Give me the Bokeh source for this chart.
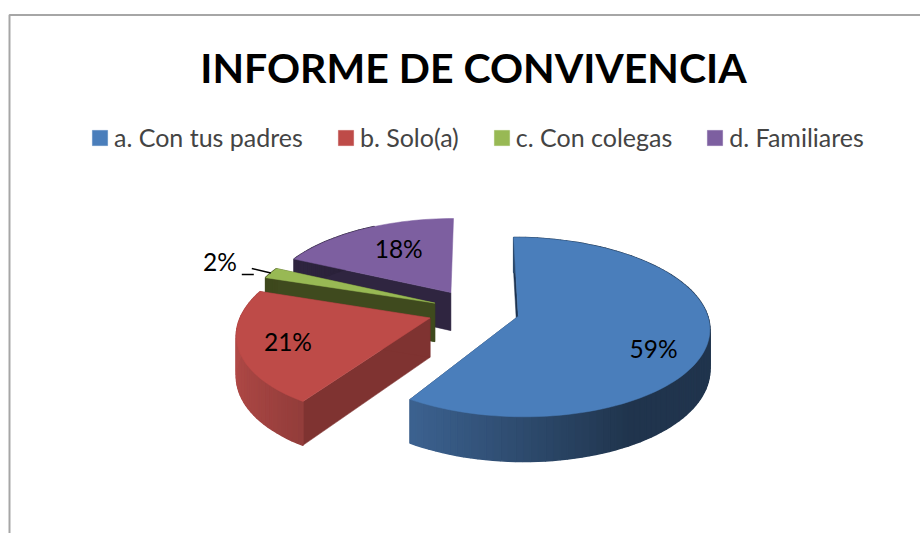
import math
from bokeh.plotting import figure
from bokeh.models import Legend, LegendItem, Range1d
from bokeh.core.properties import value
from bokeh.embed import file_html
from bokeh.resources import INLINE

title_text = "INFORME DE CONVIVENCIA"
categories = ["a. Con tus padres", "b. Solo(a)", "c. Con colegas", "d. Familiares"]
percent = [59, 21, 2, 18]
top_colors = ["#4a7ebb", "#be4b48", "#98b954", "#7d5fa0"]
wall_colors = ["#1d3350", "#7f3331", "#3f4a1e", "#2f2540"]
rim_base = [(79, 129, 189), (192, 80, 77), (70, 82, 33), (53, 42, 72)]
explode = [0.235, 0.25, 0.235, 0.25]
shear = [0, 9, 0, 0]

# pie projection
CX, CY, RX, RY, K, DEPTH = 475, 310, 188, 87, 0.12, 39
FONT = "Lato"

W, H = 920, 533
p = figure(width=W, height=H, x_range=Range1d(0, W), y_range=Range1d(H, 0),
           output_backend="svg", toolbar_location=None, min_border=0, outline_line_color=None)
p.axis.visible = False
p.grid.visible = False


def project(u, v, lift=0.0, sh=0.0):
    s = 1 / (1 + K * v)
    return CX + RX * u * s + sh * v * s, CY - RY * v * s + lift * s


def unit(deg):
    r = math.radians(deg)
    return math.sin(r), math.cos(r)


def shade(base, u):
    f = 0.41 if u >= 0.5 else 0.58 - 0.34 * u
    return "#%02x%02x%02x" % tuple(min(255, int(c * f)) for c in base)


total = sum(percent)
starts, a = [], 0.0
for val in percent:
    starts.append(a)
    a += val * 360 / total

# frame
p.line(x=[9, 9, 920], y=[533, 14.5, 14.5], line_color="#a6a6a6", line_width=2)

renderers = [None] * 4
for i in [3, 2, 1, 0]:
    a0, span = starts[i], percent[i] * 360 / total
    mid = a0 + span / 2
    mu, mv = unit(mid)
    ox, oy = explode[i] * mu, explode[i] * mv
    sh = shear[i]
    n = max(4, int(span / 2))
    angles = [a0 + span * j / n for j in range(n + 1)]
    pts = [(ox + unit(t)[0], oy + unit(t)[1]) for t in angles]
    # cut walls (the purple slice's far wall is not visible)
    cuts = (pts[0],) if i == 3 else (pts[0], pts[-1])
    for q in cuts:
        c = [project(ox, oy, 0, sh), project(*q, 0, sh), project(*q, DEPTH, sh), project(ox, oy, DEPTH, sh)]
        p.patch([t[0] for t in c], [t[1] for t in c], fill_color=wall_colors[i],
                line_color=wall_colors[i], line_width=0.5)
    # rim
    for j in range(n):
        if i == 3 and unit(angles[j])[0] > -0.5:
            continue
        q0, q1 = pts[j], pts[j + 1]
        c = [project(*q0, 0, sh), project(*q1, 0, sh), project(*q1, DEPTH, sh), project(*q0, DEPTH, sh)]
        col = shade(rim_base[i], unit((angles[j] + angles[j + 1]) / 2)[0])
        p.patch([t[0] for t in c], [t[1] for t in c], fill_color=col, line_color=col, line_width=1.5)
    # top
    c = [project(ox, oy, 0, sh)] + [project(*q, 0, sh) for q in pts]
    renderers[i] = p.patch([t[0] for t in c], [t[1] for t in c], fill_color=top_colors[i],
                           line_color=top_colors[i], line_width=0.5)

# labels
label_r = [0.73, 0.73, 1.42, 0.73]
label_dx = [-2, -7, 14, 13]
label_dy = [14, 1, 0, 3]
lx, ly, lt = [], [], []
for i in range(4):
    mid = starts[i] + percent[i] * 1.8
    mu, mv = unit(mid)
    x, y = project((explode[i] + label_r[i]) * mu, (explode[i] + label_r[i]) * mv)
    lx.append(x + label_dx[i])
    ly.append(y + label_dy[i])
    lt.append(f"{percent[i]}%")
p.text(x=lx, y=ly, text=lt, text_font=value(FONT), text_font_size="24.5px", text_color="#000000",
       text_align="center", text_baseline="middle")

# leader line of the small slice
gmid = starts[2] + percent[2] * 1.8
gu, gv = unit(gmid)
gx, gy = project((explode[2] + 1) * gu, (explode[2] + 1) * gv)
p.line([gx, gx - 19], [gy, gy - 4.5], line_color="#000000", line_width=1.3)
p.line([gx - 29, gx - 17], [gy + 1.5, gy + 1.5], line_color="#000000", line_width=1.5)

# title
p.text(x=[473], y=[67], text=[title_text], text_font=value(FONT), text_font_style="bold",
       text_font_size="41px", text_color="#000000", text_align="center", text_baseline="middle")

# legend
items = [LegendItem(label=categories[i], renderers=[renderers[i]]) for i in range(4)]
leg = Legend(items=items, orientation="horizontal", location=(90, H - 152), spacing=33,
             glyph_width=19, glyph_height=19, label_text_font=FONT, label_text_font_size="25px",
             label_standoff=5, background_fill_alpha=0, border_line_color=None, margin=0, padding=0,
             label_height=20)
p.add_layout(leg, "center")

open("out.html", "w").write(file_html(p, INLINE))
